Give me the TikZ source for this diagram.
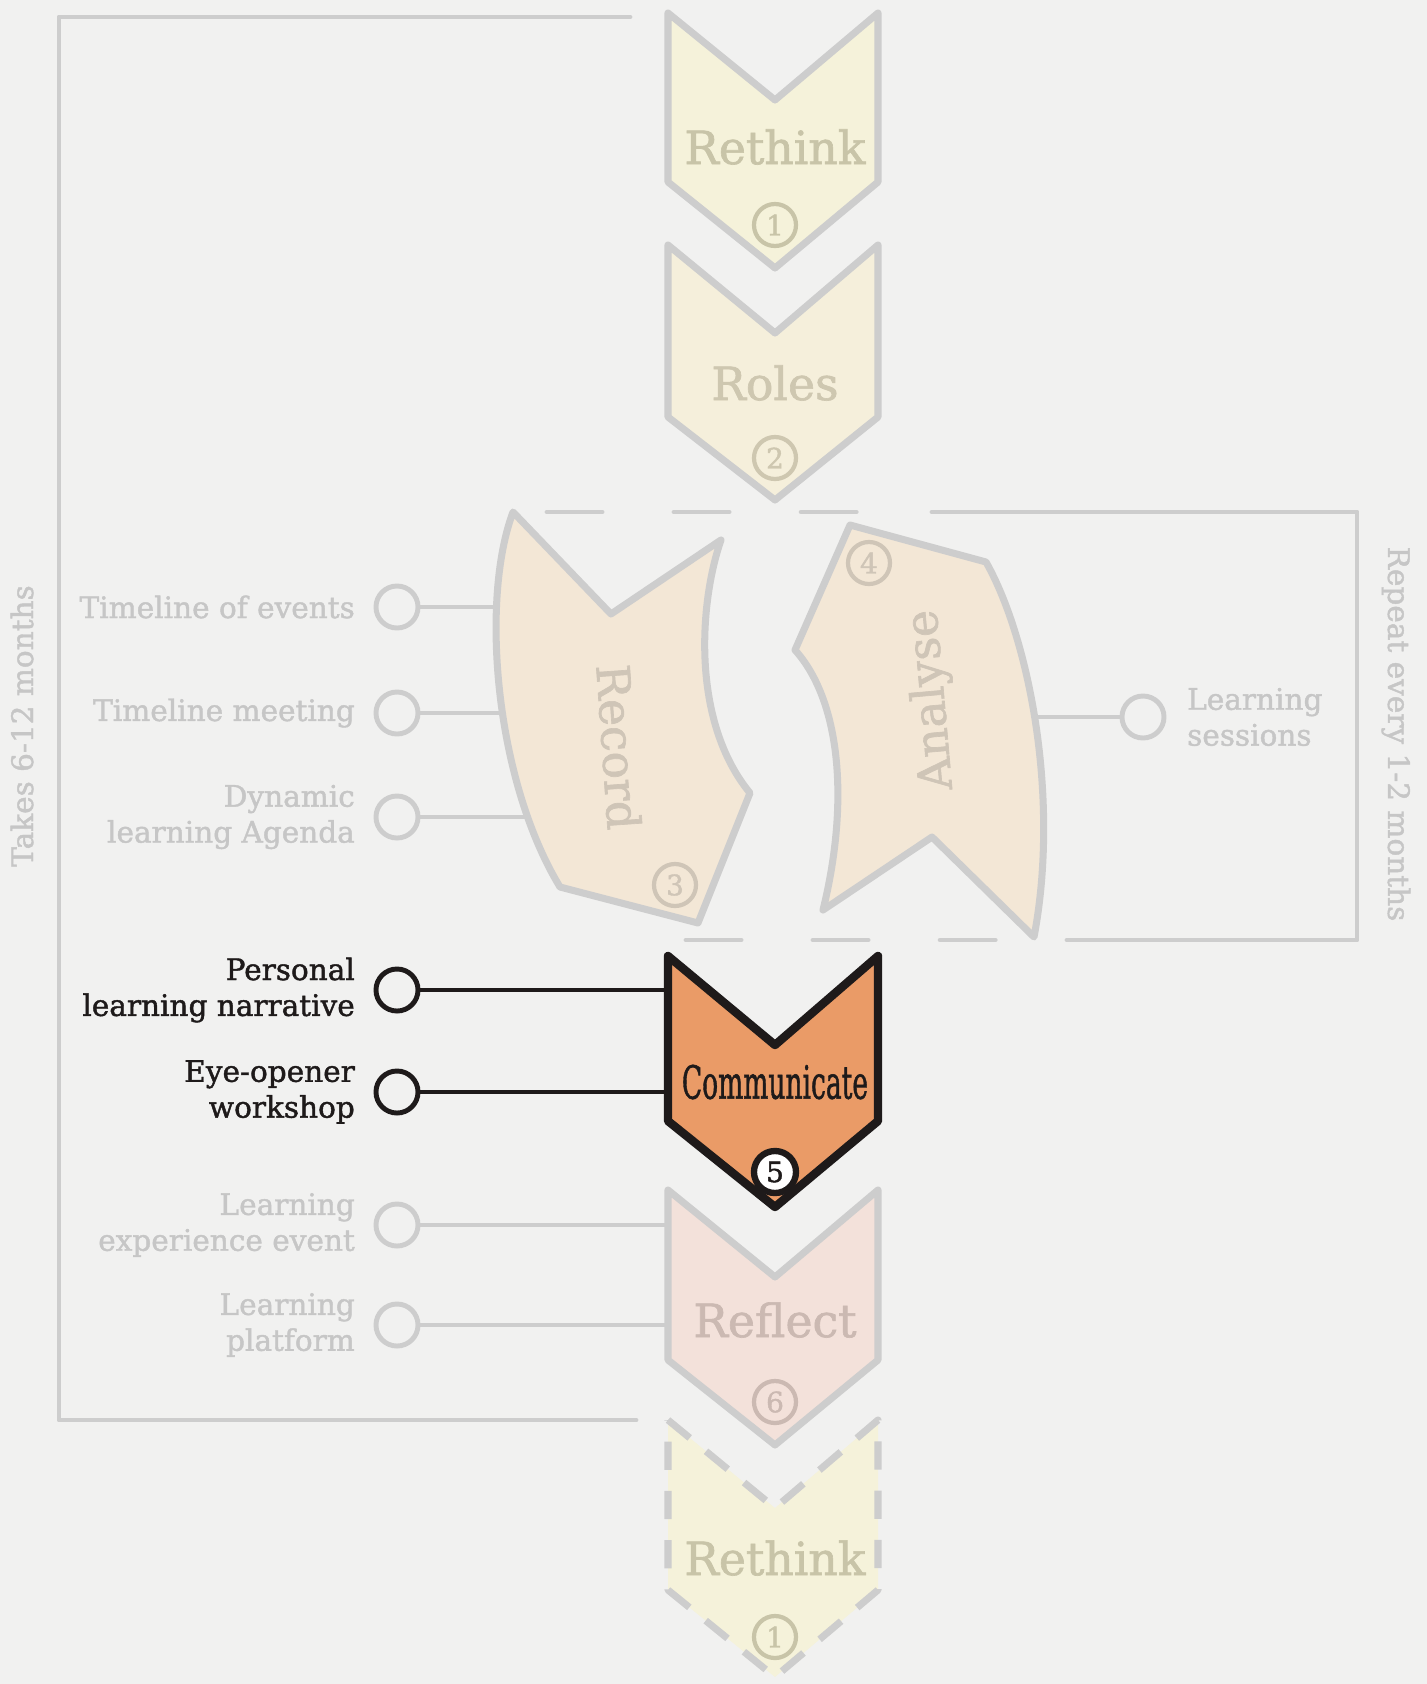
\documentclass[tikz,border=0pt]{standalone}
\usepackage{fontspec}
\setmainfont{DejaVu Serif}[FakeBold=1.4]
\usepackage{tikz}
\usepackage{xcolor}
\usepackage{graphicx}
\usetikzlibrary{positioning, calc}

\definecolor{paper}{HTML}{F1F1F0}
\definecolor{lineg}{HTML}{CDCDCD}
\definecolor{textg}{HTML}{C6C6C6}
\definecolor{inkk}{HTML}{1E1A1A}
\definecolor{rethinkf}{HTML}{F5F2DA}
\definecolor{rethinkt}{HTML}{C8C4A8}
\definecolor{rolesf}{HTML}{F5EFDB}
\definecolor{rolest}{HTML}{CEC7B0}
\definecolor{recordf}{HTML}{F3E7D6}
\definecolor{recordt}{HTML}{CFC5B7}
\definecolor{reflectf}{HTML}{F3E1DA}
\definecolor{reflectt}{HTML}{CBB9B2}
\definecolor{commf}{HTML}{EA9B67}

\begin{document}
\begin{tikzpicture}[>=stealth, x=0.01cm, y=-0.01cm,
    bracket/.style={draw=lineg, line width=1.4pt, line cap=round, line join=round},
    chevron/.style={draw=lineg, line width=2pt, line join=round},
    dot/.style={draw=lineg, circle, line width=1.4pt, minimum size=0.42cm, inner sep=0pt},
    conn/.style={draw=lineg, line width=1.1pt},
    lbl/.style={text=textg, inner sep=0pt, font=\fontsize{8.4}{10.2}\selectfont},
    numc/.style={draw, circle, line width=1.2pt, minimum size=0.42cm, inner sep=0pt, font=\fontsize{8}{8}\selectfont},
    stage/.style={inner sep=0pt, font=\fontsize{13}{13}\selectfont}]

% Paper and frame
\fill[paper] (0,0) rectangle (1427,1684);
\useasboundingbox (0,0) rectangle (1427,1684);

% Outer bracket (whole cycle)
\draw[bracket] (630,17) -- (59,17) -- (59,1420) -- (636,1420);
\node[lbl, rotate=90] (takes) at (22,726) {Takes 6-12 months};

% Inner bracket (repeat loop)
\draw[bracket, dash pattern=on 0.55cm off 0.72cm] (547,512) -- (928,512);
\draw[bracket] (932,512) -- (1357,512) -- (1357,940) -- (1067,940);
\draw[bracket, dash pattern=on 0.55cm off 0.72cm] (686,940) -- (1064,940);
\node[lbl, rotate=-90] (repeat) at (1396,734) {Repeat every 1-2 months};

% Tool circles
\node[dot] (c1) at (397,607) {};
\node[dot] (c2) at (397,713) {};
\node[dot] (c3) at (397,817) {};
\node[dot, draw=inkk] (c4) at (397,990) {};
\node[dot, draw=inkk] (c5) at (397,1092) {};
\node[dot] (c6) at (397,1225) {};
\node[dot] (c7) at (397,1325) {};
\node[dot] (c8) at (1143,717) {};

% Tool labels
\node[lbl, align=right, left=0.18cm of c1] (t1) {Timeline of events};
\node[lbl, align=right, left=0.18cm of c2] (t2) {Timeline meeting};
\node[lbl, align=right, left=0.18cm of c3] (t3) {Dynamic\\learning Agenda};
\node[lbl, align=right, left=0.18cm of c4, text=inkk] (t4) {Personal\\learning narrative};
\node[lbl, align=right, left=0.18cm of c5, text=inkk] (t5) {Eye-opener\\workshop};
\node[lbl, align=right, left=0.18cm of c6] (t6) {Learning\\experience event};
\node[lbl, align=right, left=0.18cm of c7] (t7) {Learning\\platform};
\node[lbl, align=left, right=0.2cm of c8] (t8) {Learning\\sessions};

% Connector ends on the stage edges
\coordinate (r1) at (500,607);
\coordinate (r2) at (502,713);
\coordinate (r3) at (525,817);
\coordinate (k1) at (674,990);
\coordinate (k2) at (674,1092);
\coordinate (f1) at (674,1225);
\coordinate (f2) at (674,1325);
\coordinate (a1) at (1035,717);

\draw[conn] (c1) -- (r1);
\draw[conn] (c2) -- (r2);
\draw[conn] (c3) -- (r3);
\draw[conn, draw=inkk] (c4) -- (k1);
\draw[conn, draw=inkk] (c5) -- (k2);
\draw[conn] (c6) -- (f1);
\draw[conn] (c7) -- (f2);
\draw[conn] (c8) -- (a1);

% Stages
\draw[chevron, fill=rethinkf] (668,13) -- (775,100) -- (878,13) -- (878,182) -- (775,268) -- (668,182) -- cycle;
\draw[chevron, fill=rolesf] (668,245) -- (775,333) -- (878,245) -- (878,417) -- (775,500) -- (668,417) -- cycle;
\draw[chevron, fill=recordf] (513,512) -- (611,614) -- (721,540)
    .. controls (700,600) and (690,720) .. (750,793) -- (698,923) -- (560,887)
    .. controls (495,780) and (480,600) .. cycle;
\draw[chevron, fill=recordf] (850,525) -- (986,562)
    .. controls (1030,640) and (1060,800) .. (1034,937) -- (932,837) -- (823,910)
    .. controls (850,800) and (840,700) .. (795,650) -- cycle;
\draw[chevron, fill=reflectf] (668,1190) -- (775,1277) -- (878,1190) -- (878,1360) -- (775,1445) -- (668,1360) -- cycle;
\draw[chevron, fill=commf, draw=inkk, line width=2.4pt] (668,956) -- (775,1045) -- (878,956) -- (878,1121) -- (775,1207) -- (668,1121) -- cycle;
\draw[chevron, fill=rethinkf, dash pattern=on 8pt off 6pt] (668,1420) -- (775,1508) -- (878,1420) -- (878,1590) -- (775,1677) -- (668,1590) -- cycle;

% Stage names and numbers
\node[stage, text=rethinkt] (rethink) at (775,147) {Rethink};
\node[numc, draw=rethinkt, text=rethinkt] (n1) at (775,225) {1};
\node[stage, text=rolest] (roles) at (775,383) {Roles};
\node[numc, draw=rolest, text=rolest] (n2) at (775,458) {2};
\node[stage, text=recordt, rotate=-86] (record) at (619,747) {Record};
\node[numc, draw=recordt, text=recordt] (n3) at (675,885) {3};
\node[stage, text=recordt, rotate=95] (analyse) at (932,700) {Analyse};
\node[numc, draw=recordt, text=recordt] (n4) at (869,563) {4};
\node[stage, text=inkk] (comm) at (775,1082) {\scalebox{0.58}[1]{Communicate}};
\node[numc, draw=inkk, fill=white, text=inkk, line width=1.8pt] (n5) at (775,1172) {5};
\node[stage, text=reflectt] (reflect) at (775,1320) {Reflect};
\node[numc, draw=reflectt, text=reflectt] (n6) at (775,1402) {6};
\node[stage, text=rethinkt] (rethinkb) at (775,1558) {Rethink};
\node[numc, draw=rethinkt, text=rethinkt] (n1b) at (775,1637) {1};

\end{tikzpicture}
\end{document}
